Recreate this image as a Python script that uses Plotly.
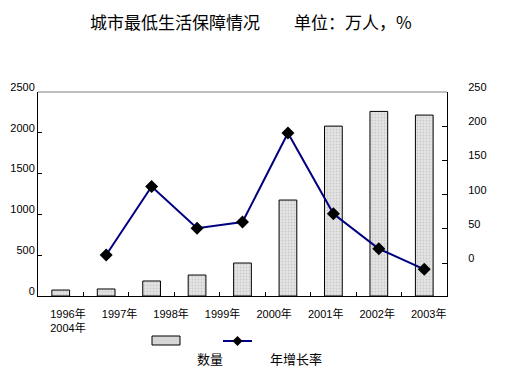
import plotly.graph_objects as go

# ---- data ----
years = ["1996年", "1997年", "1998年", "1999年", "2000年", "2001年", "2002年", "2003年", "2004年"]
count_values = [73, 86, 184, 257, 404, 1176, 2082, 2262, 2217]          # 数量 (万人)
growth_values = [None, 12, 112, 51, 60, 190, 72, 21, -9]                # 年增长率 (%)
tick_labels = ["1996年<br>2004年", "1997年", "1998年", "1999年", "2000年", "2001年", "2002年", "2003年"]
left_ticks = [0, 500, 1000, 1500, 2000, 2500]
right_ticks = [0, 50, 100, 150, 200, 250]
bar_name = "数量"
line_name = "年增长率"
title_text = "城市最低生活保障情况　　单位：万人，%"

cat_idx = list(range(len(years)))
label_pos = [0.16 + i * 1.134 for i in range(len(tick_labels))]
boundaries = [i + 0.5 for i in range(len(years) - 1)]

CJK = "Noto Sans CJK SC"
TICKF = "Liberation Sans, Noto Sans CJK SC"

fig = go.Figure()
fig.add_trace(go.Bar(
    x=cat_idx, y=count_values, name=bar_name, width=0.39,
    marker=dict(color="#d6d6d6", line=dict(color="black", width=1),
                pattern=dict(shape=".", fgcolor="#b0b0b0", bgcolor="#e4e4e4", size=3, solidity=0.3)),
    xaxis="x", yaxis="y", showlegend=False,
))
fig.add_trace(go.Scatter(
    x=cat_idx, y=growth_values, name=line_name, mode="lines+markers",
    line=dict(color="#000080", width=2),
    marker=dict(symbol="diamond", size=10, color="black"),
    xaxis="x2", yaxis="y2", showlegend=False,
))

# the page body adds an 8px margin, so the figure is sized/placed to compensate
fig.update_layout(
    width=507, height=368,
    margin=dict(l=30, r=68, t=84, b=80, autoexpand=False),
    paper_bgcolor="white", plot_bgcolor="white",
    title=dict(text=title_text, x=0.479, xanchor="center", y=0.958, yanchor="middle",
               font=dict(family=CJK, size=17, color="black")),
    xaxis=dict(range=[-0.5, 8.5], tickvals=boundaries, showticklabels=False,
               ticks="inside", ticklen=4, tickcolor="black",
               showline=True, linecolor="black", linewidth=1, showgrid=False, zeroline=False),
    xaxis2=dict(range=[-0.5, 8.5], overlaying="x", side="bottom", anchor="y",
                tickvals=label_pos, ticktext=tick_labels, ticks="",
                showline=False, showgrid=False, zeroline=False,
                tickfont=dict(family=TICKF, size=11, color="black"), ticklabelstandoff=10),
    yaxis=dict(range=[0, 2500], tickvals=left_ticks, ticks="inside", ticklen=4, tickcolor="black",
               showline=True, linecolor="black", linewidth=1, showgrid=False, zeroline=False,
               tickfont=dict(family=TICKF, size=11, color="black"),
               ticklabelshift=-5, ticklabelstandoff=0),
    yaxis2=dict(range=[-48, 250], tickvals=right_ticks, overlaying="y", side="right", anchor="x",
                ticks="inside", ticklen=5, tickcolor="black",
                showline=True, linecolor="black", linewidth=1, showgrid=False, zeroline=False,
                tickfont=dict(family=TICKF, size=11, color="black"),
                ticklabelshift=-5, ticklabelstandoff=18),
)

# top border of plot area
fig.add_shape(type="line", xref="paper", yref="paper", x0=0, x1=1, y0=1, y1=1,
              line=dict(color="#808080", width=1))

# custom legend (positions in page pixels mapped to plot-area paper coords)
def px_x(p):
    return (p - 38) / 409.0

def px_y(p):
    return (296 - p) / 204.0

fig.add_shape(type="rect", xref="paper", yref="paper",
              x0=px_x(152), x1=px_x(180), y0=px_y(345), y1=px_y(336),
              line=dict(color="black", width=1), fillcolor="#d6d6d6")
fig.add_shape(type="line", xref="paper", yref="paper",
              x0=px_x(223), x1=px_x(252), y0=px_y(341), y1=px_y(341),
              line=dict(color="#000080", width=2))
cx, cy = 237.5, 341
d = 5
fig.add_shape(type="path", xref="paper", yref="paper",
              path=f"M {px_x(cx-d)} {px_y(cy)} L {px_x(cx)} {px_y(cy-d)} L {px_x(cx+d)} {px_y(cy)} L {px_x(cx)} {px_y(cy+d)} Z",
              fillcolor="black", line=dict(color="black", width=0))
fig.add_annotation(text=bar_name, xref="paper", yref="paper", x=px_x(210), y=px_y(358),
                   xanchor="center", yanchor="middle",
                   showarrow=False, font=dict(family=CJK, size=13, color="black"))
fig.add_annotation(text=line_name, xref="paper", yref="paper", x=px_x(296), y=px_y(358),
                   xanchor="center", yanchor="middle",
                   showarrow=False, font=dict(family=CJK, size=13, color="black"))

fig.write_html("out.html")
